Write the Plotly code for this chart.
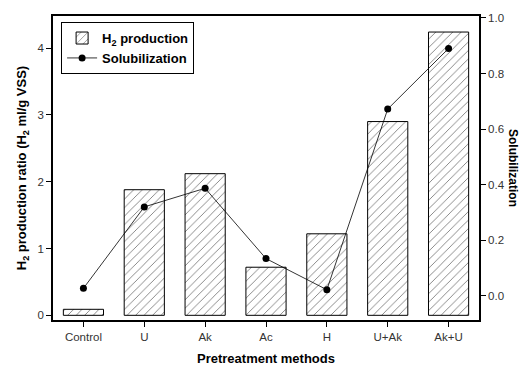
import plotly.graph_objects as go

categories = ["Control", "U", "Ak", "Ac", "H", "U+Ak", "Ak+U"]
h2_production = [0.09, 1.88, 2.12, 0.72, 1.22, 2.90, 4.24]
solubilization = [0.027, 0.32, 0.387, 0.134, 0.022, 0.672, 0.89]

font_family = "Liberation Sans, Arial, sans-serif"

fig = go.Figure()
fig.add_trace(go.Bar(
    x=categories, y=h2_production, name="<b>H<sub>2</sub> production</b>",
    marker=dict(color="white", line=dict(color="black", width=1),
                pattern=dict(shape="/", fgcolor="black", bgcolor="white", size=6, solidity=0.15)),
    yaxis="y",
))
fig.add_trace(go.Scatter(
    x=categories, y=solubilization, name="<b>Solubilization</b>",
    mode="lines+markers", line=dict(color="black", width=0.8),
    marker=dict(color="black", size=7), yaxis="y2",
))

fig.update_layout(
    width=528, height=376,
    margin=dict(l=53, r=49, t=13, b=50),
    plot_bgcolor="white", paper_bgcolor="white",
    font=dict(family=font_family, color="black", size=11),
    bargap=0.34,
    showlegend=True,
    legend=dict(x=0.019, y=0.98, xanchor="left", yanchor="top",
                bgcolor="white", bordercolor="black", borderwidth=1,
                font=dict(size=13, color="black"), tracegroupgap=0,
                itemwidth=30),
    xaxis=dict(range=[-0.5, 6.5], showline=True, linecolor="black", linewidth=1.5,
               mirror=True, ticks="outside", ticklen=5, tickcolor="black",
               tickfont=dict(size=11.5, color="#333"),
               title=dict(text="<b>Pretreatment methods</b>", font=dict(size=13), standoff=12)),
    yaxis=dict(range=[-0.07, 4.48], tickvals=[0, 1, 2, 3, 4], showline=True, linecolor="black",
               linewidth=1.5, ticks="outside", ticklen=5, tickcolor="black", showgrid=False,
               zeroline=False, tickfont=dict(size=11.5, color="#333"),
               title=dict(text="<b>H<sub>2</sub> production ratio (H<sub>2</sub> ml/g VSS)</b>",
                          font=dict(size=13), standoff=8)),
    yaxis2=dict(range=[-0.087, 1.007], tickvals=[0, 0.2, 0.4, 0.6, 0.8, 1.0],
                tickformat=".1f", overlaying="y", side="right", showline=True,
                linecolor="black", linewidth=1.5, ticks="outside", ticklen=5,
                tickcolor="black", showgrid=False, zeroline=False,
                tickfont=dict(size=11.5, color="#333")),
    annotations=[dict(text="<b>Solubilization</b>", textangle=90, xref="paper", yref="paper",
                      x=1.0, y=0.5, xshift=43, showarrow=False, font=dict(size=12))],
)

fig.write_html("out.html")
